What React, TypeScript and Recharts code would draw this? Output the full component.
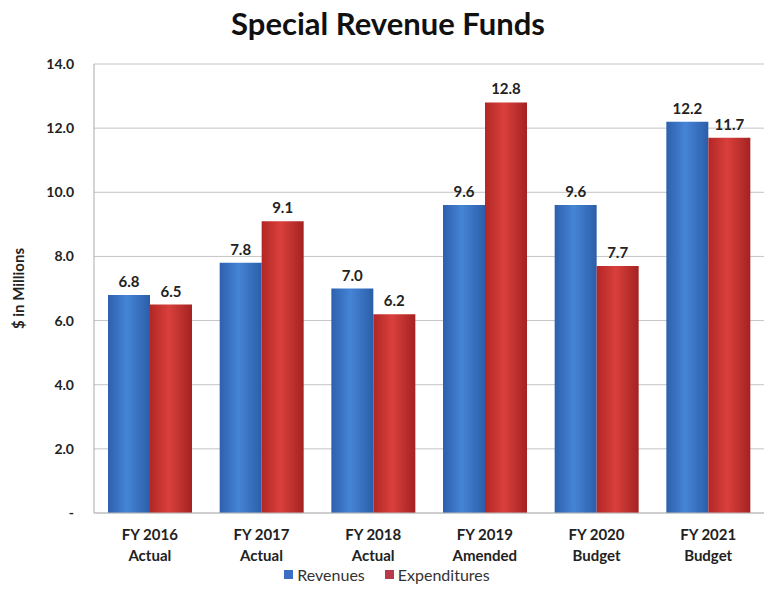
import { Bar, BarChart, CartesianGrid, LabelList, Legend, XAxis, YAxis } from 'recharts';

const fiscalYears = ['FY 2016', 'FY 2017', 'FY 2018', 'FY 2019', 'FY 2020', 'FY 2021'];
const stages = ['Actual', 'Actual', 'Actual', 'Amended', 'Budget', 'Budget'];
const revenues = [6.8, 7.8, 7.0, 9.6, 9.6, 12.2];
const expenditures = [6.5, 9.1, 6.2, 12.8, 7.7, 11.7];
const yTicks = [0, 2, 4, 6, 8, 10, 12, 14];

const data = fiscalYears.map((fy, i) => ({
  name: `${fy}|${stages[i]}`,
  revenues: revenues[i],
  expenditures: expenditures[i],
}));

const font = 'Lato, "DejaVu Sans", sans-serif';

const CategoryTick = ({ x, y, payload }: any) => {
  const [fy, stage] = String(payload.value).split('|');
  return (
    <text x={x} y={y} textAnchor="middle" fontFamily={font} fontSize={15} fontWeight={700} fill="#222">
      <tspan x={x} dy={19}>{fy}</tspan>
      <tspan x={x} dy={21}>{stage}</tspan>
    </text>
  );
};

const LegendContent = () => (
  <div style={{ display: 'flex', justifyContent: 'center', gap: 20, fontFamily: font, fontSize: 16, color: '#333', paddingLeft: 10 }}>
    <span style={{ display: 'flex', alignItems: 'center', gap: 4 }}>
      <span style={{ width: 9, height: 9, background: '#3a6fc4' }} />
      Revenues
    </span>
    <span style={{ display: 'flex', alignItems: 'center', gap: 4 }}>
      <span style={{ width: 9, height: 9, background: '#b83a4a' }} />
      Expenditures
    </span>
  </div>
);

export default function App() {
  return (
    <div style={{ position: 'absolute', left: 0, top: 0, width: 776, height: 609, background: '#fff' }}>
      <div
        style={{
          position: 'absolute',
          top: 4,
          width: 776,
          textAlign: 'center',
          fontFamily: font,
          fontWeight: 700,
          fontSize: 31,
          color: '#111',
        }}
      >
        Special Revenue Funds
      </div>
      <BarChart
        width={776}
        height={609}
        data={data}
        barSize={42}
        barGap={0}
        margin={{ top: 64, right: 12, bottom: 8, left: 0 }}
      >
        <defs>
          <linearGradient id="blueFill" x1="0" y1="0" x2="1" y2="0">
            <stop offset="0%" stopColor="#2d60ad" />
            <stop offset="45%" stopColor="#4584d6" />
            <stop offset="100%" stopColor="#2c5ea8" />
          </linearGradient>
          <linearGradient id="redFill" x1="0" y1="0" x2="1" y2="0">
            <stop offset="0%" stopColor="#b22726" />
            <stop offset="45%" stopColor="#d9403b" />
            <stop offset="100%" stopColor="#a42222" />
          </linearGradient>
        </defs>
        <CartesianGrid vertical={false} stroke="#c4c4c4" />
        <XAxis
          dataKey="name"
          height={52}
          tick={<CategoryTick />}
          tickLine={false}
          axisLine={{ stroke: '#bbb' }}
          interval={0}
        />
        <YAxis
          width={94}
          domain={[0, 14]}
          ticks={yTicks}
          tickFormatter={(v: number) => (v === 0 ? '-' : v.toFixed(1))}
          tick={{ fontFamily: font, fontSize: 14, fontWeight: 700, fill: '#222' }}
          tickLine={false}
          tickSize={0}
          tickMargin={20}
          axisLine={{ stroke: '#aaa' }}
          label={{
            content: ({ viewBox }: any) => (
              <text
                x={20}
                y={viewBox.y + viewBox.height / 2}
                transform={`rotate(-90 20 ${viewBox.y + viewBox.height / 2})`}
                textAnchor="middle"
                dominantBaseline="middle"
                fontFamily={font}
                fontSize={15}
                fontWeight={700}
                fill="#222"
              >
                $ in Millions
              </text>
            ),
          }}
        />
        <Legend verticalAlign="bottom" content={<LegendContent />} wrapperStyle={{ height: 36 }} />
        <Bar dataKey="revenues" name="Revenues" fill="url(#blueFill)" isAnimationActive={false}>
          <LabelList
            dataKey="revenues"
            position="top"
            offset={8}
            formatter={(v: number) => v.toFixed(1)}
            style={{ fontFamily: font, fontSize: 15, fontWeight: 700, fill: '#222' }}
          />
        </Bar>
        <Bar dataKey="expenditures" name="Expenditures" fill="url(#redFill)" isAnimationActive={false}>
          <LabelList
            dataKey="expenditures"
            position="top"
            offset={8}
            formatter={(v: number) => v.toFixed(1)}
            style={{ fontFamily: font, fontSize: 15, fontWeight: 700, fill: '#222' }}
          />
        </Bar>
      </BarChart>
    </div>
  );
}
